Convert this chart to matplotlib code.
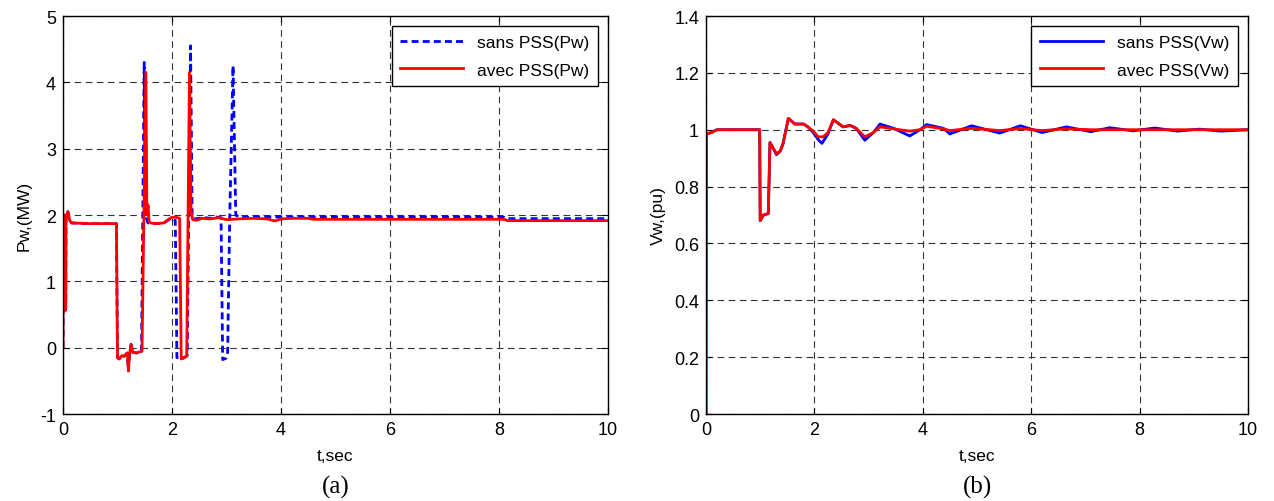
import numpy as np
import matplotlib.pyplot as plt

plt.rcParams['font.family'] = ['Liberation Sans', 'DejaVu Sans']
plt.rcParams['axes.unicode_minus'] = False

# (a) puissance Pw, sans / avec PSS
t_pw_sans = [0, 0.005, 0.02, 0.035, 0.04, 0.05, 0.055, 0.07, 0.09, 0.12, 0.16, 0.5, 0.98,
             1.0, 1.03, 1.08, 1.12, 1.18, 1.2, 1.22, 1.25, 1.28, 1.35, 1.44, 1.49, 1.51,
             1.53, 1.56, 1.7, 1.85, 1.98, 2.06, 2.09, 2.12, 2.2, 2.28, 2.34, 2.37, 2.4,
             2.5, 2.6, 2.7, 2.8, 2.9, 2.93, 2.99, 3.02, 3.06, 3.12, 3.17, 3.25, 3.5,
             3.9, 4.3, 5.0, 6.0, 7.0, 8.1, 8.15, 9.0, 10.0]
pw_sans = [0, 1.95, 1.9, 2.0, 0.56, 0.6, 1.95, 1.98, 2.05, 1.92, 1.88, 1.87, 1.87,
           -0.15, -0.17, -0.12, -0.13, -0.08, -0.35, -0.1, 0.05, -0.07, -0.08, -0.06, 4.3, 2.2,
           1.95, 1.88, 1.87, 1.88, 1.95, 1.92, -0.15, -0.15, -0.16, -0.12, 4.55, 2.0, 1.94,
           1.95, 1.96, 1.95, 1.97, 1.96, -0.18, -0.16, -0.1, 2.0, 4.25, 2.0, 1.96, 1.97,
           1.97, 1.97, 1.97, 1.97, 1.97, 1.965, 1.945, 1.945, 1.945]

t_pw_avec = [0, 0.005, 0.02, 0.035, 0.04, 0.05, 0.055, 0.07, 0.09, 0.12, 0.16, 0.5, 0.98,
             1.0, 1.03, 1.08, 1.12, 1.18, 1.2, 1.22, 1.25, 1.28, 1.35, 1.45, 1.52, 1.54,
             1.56, 1.58, 1.61, 1.7, 1.85, 1.98, 2.06, 2.14, 2.17, 2.2, 2.27, 2.32, 2.35,
             2.38, 2.45, 2.55, 2.7, 2.85, 3.0, 3.2, 3.5, 3.75, 3.89, 4.0, 4.2, 4.5, 4.6,
             5.5, 6.5, 7.5, 8.1, 8.15, 9.0, 10.0]
pw_avec = [0, 1.95, 1.9, 2.0, 0.56, 0.6, 1.95, 1.98, 2.05, 1.92, 1.88, 1.87, 1.87,
           -0.15, -0.17, -0.12, -0.13, -0.08, -0.35, -0.1, 0.05, -0.07, -0.08, -0.05, 4.15, 2.0,
           2.15, 1.9, 1.88, 1.87, 1.88, 1.96, 1.97, 1.95, -0.17, -0.16, -0.13, 4.15, 2.05,
           1.93, 1.92, 1.95, 1.94, 1.96, 1.93, 1.94, 1.95, 1.94, 1.91, 1.94, 1.95, 1.95, 1.935,
           1.935, 1.935, 1.935, 1.935, 1.915, 1.915, 1.915]

# (b) tension Vw, sans / avec PSS
t_vw_sans = [0, 0.005, 0.1, 0.2, 0.5, 0.99, 1.0, 1.06, 1.15, 1.18, 1.24, 1.3, 1.37, 1.42,
             1.52, 1.58, 1.64, 1.8, 1.88, 1.98, 2.07, 2.14, 2.25, 2.35, 2.53, 2.66, 2.77,
             2.93, 3.09, 3.21, 3.46, 3.76, 3.95, 4.07, 4.38, 4.5, 4.9, 5.42, 5.8, 6.2,
             6.65, 7.1, 7.45, 7.88, 8.28, 8.7, 9.1, 9.5, 10.0]
vw_sans = [0, 0.985, 0.99, 1.0, 1.0, 1.0, 0.68, 0.70, 0.705, 0.955, 0.935, 0.912, 0.925, 0.95,
           1.04, 1.03, 1.02, 1.02, 1.01, 0.99, 0.965, 0.952, 0.985, 1.035, 1.01, 1.015, 1.005,
           0.963, 0.99, 1.02, 1.005, 0.978, 1.0, 1.018, 1.005, 0.985, 1.014, 0.988, 1.014, 0.99,
           1.01, 0.993, 1.007, 0.996, 1.006, 0.995, 1.002, 0.995, 1.0]

t_vw_avec = [0, 0.005, 0.1, 0.2, 0.5, 0.99, 1.0, 1.06, 1.15, 1.18, 1.24, 1.3, 1.37, 1.42,
             1.52, 1.58, 1.64, 1.8, 1.88, 1.98, 2.07, 2.16, 2.25, 2.35, 2.53, 2.66, 2.77,
             2.93, 3.09, 3.21, 3.46, 3.76, 3.95, 4.07, 4.38, 4.5, 4.9, 5.42, 5.8, 6.2,
             6.65, 7.1, 8.0, 9.0, 10.0]
vw_avec = [0, 0.985, 0.99, 1.0, 1.0, 1.0, 0.68, 0.70, 0.705, 0.955, 0.935, 0.915, 0.925, 0.95,
           1.04, 1.03, 1.02, 1.02, 1.01, 0.995, 0.975, 0.975, 0.99, 1.035, 1.01, 1.015, 1.005,
           0.975, 0.99, 1.01, 1.003, 0.995, 1.0, 1.012, 1.003, 0.997, 1.005, 0.997, 1.004, 0.997,
           1.003, 1.0, 1.0, 1.0, 1.0]

fig = plt.figure(figsize=(12.74, 5.02), dpi=100)
ax1 = fig.add_axes([63/1274, 1-415/502, 545/1274, 398/502])
ax2 = fig.add_axes([706/1274, 1-415/502, 542/1274, 398/502])

ax1.plot(t_pw_sans, pw_sans, color='blue', linestyle=(0, (2.5, 1.5)), linewidth=2, label='sans PSS(Pw)')
ax1.plot(t_pw_avec, pw_avec, color='red', linewidth=2, label='avec PSS(Pw)')
ax1.set_xlim(0, 10)
ax1.set_ylim(-1, 5)
ax1.set_yticks(np.arange(-1, 6, 1))
ax1.set_ylabel('Pw,(MW)', fontsize=12.5, labelpad=6)

ax2.plot(t_vw_sans, vw_sans, color='blue', linewidth=2, label='sans PSS(Vw)')
ax2.plot(t_vw_avec, vw_avec, color='red', linewidth=2, label='avec PSS(Vw)')
ax2.set_xlim(0, 10)
ax2.set_ylim(0, 1.4)
ax2.set_yticks(np.arange(0, 1.41, 0.2))
ax2.set_yticklabels(['0', '0.2', '0.4', '0.6', '0.8', '1', '1.2', '1.4'])
ax2.set_ylabel('Vw,(pu)', fontsize=12.5, labelpad=6)

for ax, lettre in [(ax1, '(a)'), (ax2, '(b)')]:
    ax.set_xticks(np.arange(0, 11, 2))
    ax.set_xlabel('t,sec', fontsize=12.5, labelpad=7)
    ax.grid(True, color='0.2', linestyle=(0, (6, 4)), linewidth=0.8)
    ax.tick_params(direction='in', top=True, right=True, labelsize=13, length=4, pad=5)
    for s in ax.spines.values():
        s.set_linewidth(1.0)
    leg = ax.legend(loc='upper right', fontsize=12.5, handlelength=3.6, fancybox=False,
                    framealpha=1, edgecolor='black', borderaxespad=0.6, labelspacing=0.7,
                    borderpad=0.5)
    leg.get_frame().set_linewidth(1.0)
    ax.text(0.5, -0.183, lettre, transform=ax.transAxes, ha='center', va='center',
            fontsize=18, family='Liberation Serif')

fig.savefig('out.png', dpi=100)
